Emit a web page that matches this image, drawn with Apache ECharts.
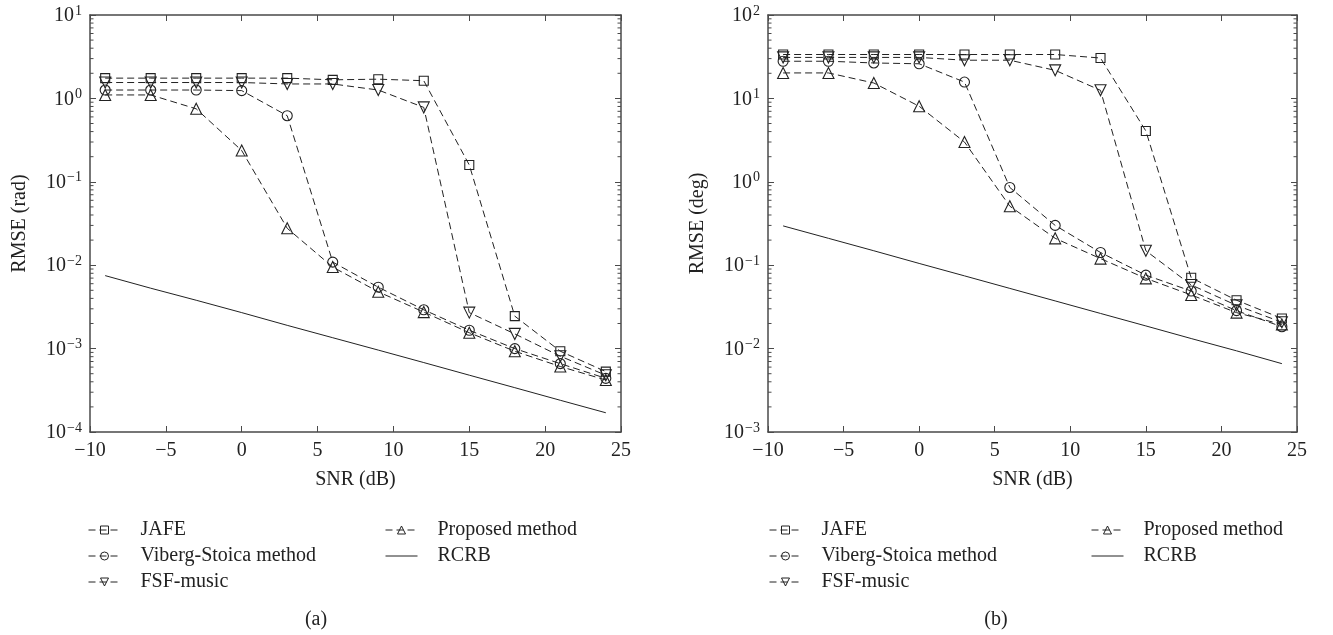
<!DOCTYPE html>
<html>
<head>
<meta charset="utf-8">
<script src="https://cdn.jsdelivr.net/npm/echarts@6/dist/echarts.min.js"></script>
<style>
html,body{margin:0;padding:0;background:#fff;}
#chart{width:1333px;height:635px;}
</style>
</head>
<body>
<div id="chart"></div>
<script>
// ---------- data ----------
var snr = [-9, -6, -3, 0, 3, 6, 9, 12, 15, 18, 21, 24];

// (a) RMSE (rad)
var radJAFE     = [1.75, 1.75, 1.75, 1.75, 1.75, 1.67, 1.70, 1.63, 0.159, 0.00245, 0.00093, 0.00053];
var radViberg   = [1.26, 1.26, 1.26, 1.24, 0.62, 0.0109, 0.00545, 0.00292, 0.00166, 0.00100, 0.00066, 0.00044];
var radFSF      = [1.55, 1.55, 1.55, 1.55, 1.49, 1.49, 1.26, 0.78, 0.0027, 0.0015, 0.00081, 0.00048];
var radProposed = [1.10, 1.10, 0.75, 0.237, 0.0277, 0.0095, 0.0048, 0.00274, 0.00155, 0.00093, 0.00061, 0.00042];
var radRCRB     = [0.0075, 0.0053, 0.0038, 0.0027, 0.0019, 0.00135, 0.00096, 0.00068, 0.00048, 0.00034, 0.00024, 0.00017];

// (b) RMSE (deg)
var degJAFE     = [33.6, 33.6, 33.6, 33.6, 33.6, 33.6, 33.6, 30.5, 4.07, 0.0707, 0.038, 0.023];
var degViberg   = [27.9, 27.9, 26.6, 26.0, 15.7, 0.855, 0.30, 0.142, 0.076, 0.049, 0.0285, 0.0183];
var degFSF      = [31.0, 31.0, 31.0, 31.0, 28.7, 28.7, 21.7, 12.5, 0.149, 0.058, 0.033, 0.0207];
var degProposed = [20.2, 20.2, 15.3, 8.05, 3.0, 0.51, 0.21, 0.12, 0.0695, 0.044, 0.027, 0.0195];
var degRCRB     = [0.296, 0.21, 0.149, 0.105, 0.0745, 0.0527, 0.0373, 0.0264, 0.0187, 0.0132, 0.0094, 0.0066];

var seriesNames = ['JAFE', 'Viberg-Stoica method', 'FSF-music', 'Proposed method', 'RCRB'];
var xTickLabels = [-10, -5, 0, 5, 10, 15, 20, 25];
var panelLabels = ['(a)', '(b)'];
var yNames = ['RMSE (rad)', 'RMSE (deg)'];
var xName = 'SNR (dB)';

// ---------- helpers ----------
var FONT = 'Liberation Serif';
var INK = '#222';
var AXIS = '#4a4a4a';

function pairs(xs, ys) { return xs.map(function (x, i) { return [x, ys[i]]; }); }
function minus(s) { return String(s).replace('-', '\u2212'); }

function minorTicks(lowExp, highExp) {
  var out = [];
  for (var e = lowExp; e < highExp; e++) {
    for (var k = 2; k <= 9; k++) out.push([-10, k * Math.pow(10, e)]);
  }
  return out;
}

function xAxes(gridIndex) {
  var common = {
    type: 'value', gridIndex: gridIndex, min: -10, max: 25, interval: 5,
    splitLine: { show: false },
    axisLine: { show: true, onZero: false, lineStyle: { color: AXIS, width: 1.5 } },
    axisTick: { show: true, inside: true, length: 6, lineStyle: { color: AXIS, width: 1 } }
  };
  var bottom = Object.assign({}, common, {
    position: 'bottom',
    name: xName, nameLocation: 'middle', nameGap: 38,
    nameTextStyle: { fontFamily: FONT, fontSize: 20, color: INK },
    axisLabel: { show: true, margin: 9, fontFamily: FONT, fontSize: 20, color: INK,
      formatter: function (v) { return minus(v); } }
  });
  var top = Object.assign({}, common, { position: 'top', axisLabel: { show: false } });
  return [bottom, top];
}

function yAxes(gridIndex, mn, mx, name) {
  var common = {
    type: 'log', logBase: 10, gridIndex: gridIndex, min: mn, max: mx,
    splitLine: { show: false },
    axisLine: { show: true, onZero: false, lineStyle: { color: AXIS, width: 1.5 } },
    axisTick: { show: true, inside: true, length: 6, lineStyle: { color: AXIS, width: 1 } },
    minorTick: { show: false }
  };
  var left = Object.assign({}, common, {
    position: 'left',
    name: name, nameLocation: 'middle', nameGap: 60,
    nameTextStyle: { fontFamily: FONT, fontSize: 20, color: INK },
    axisLabel: {
      show: true, margin: 8, fontFamily: FONT, color: INK,
      formatter: function (v) {
        var e = Math.round(Math.log(v) / Math.LN10);
        return '{b|10}{s|' + minus(e) + '}';
      },
      rich: {
        b: { fontFamily: FONT, fontSize: 20, lineHeight: 22, color: INK, verticalAlign: 'bottom' },
        s: { fontFamily: FONT, fontSize: 14, lineHeight: 14, color: INK, verticalAlign: 'top', padding: [0, 0, 6, 1] }
      }
    }
  });
  var right = Object.assign({}, common, { position: 'right', axisLabel: { show: false } });
  return [left, right];
}

var styles = {
  'JAFE': { symbol: 'rect', size: 9, rotate: 0 },
  'Viberg-Stoica method': { symbol: 'circle', size: 10, rotate: 0 },
  'FSF-music': { symbol: 'triangle', size: 11, rotate: 180 },
  'Proposed method': { symbol: 'triangle', size: 11, rotate: 0 },
  'RCRB': { symbol: 'none', size: 0, rotate: 0 }
};

function makeSeries(name, values, xi, yi) {
  var st = styles[name];
  var solid = name === 'RCRB';
  return {
    name: name, type: 'line', xAxisIndex: xi, yAxisIndex: yi,
    data: pairs(snr, values),
    symbol: st.symbol, symbolSize: st.size, symbolRotate: st.rotate,
    showSymbol: !solid,
    lineStyle: { color: INK, width: 1, type: solid ? 'solid' : [7, 4] },
    itemStyle: { color: 'rgba(255,255,255,0)', borderColor: INK, borderWidth: 1.1 },
    emphasis: { disabled: true },
    z: 3,
    animation: false
  };
}

function minorSeries(xi, yi, data) {
  return {
    type: 'custom', xAxisIndex: xi, yAxisIndex: yi, silent: true, clip: false,
    data: data, encode: { x: 0, y: 1 },
    renderItem: function (params, api) {
      var p = api.coord([api.value(0), api.value(1)]);
      var cs = params.coordSys;
      var st = { stroke: AXIS, lineWidth: 1 };
      return {
        type: 'group', children: [
          { type: 'line', shape: { x1: cs.x, y1: p[1], x2: cs.x + 3.5, y2: p[1] }, style: st },
          { type: 'line', shape: { x1: cs.x + cs.width, y1: p[1], x2: cs.x + cs.width - 3.5, y2: p[1] }, style: st }
        ]
      };
    }
  };
}

function legendItem(name) {
  if (name === 'RCRB') {
    return { name: name, itemStyle: { color: 'rgba(255,255,255,0)', borderColor: 'rgba(255,255,255,0)', borderWidth: 0, opacity: 0 } };
  }
  return { name: name };
}

function legend(left, names) {
  return {
    left: left, top: 520, orient: 'vertical', padding: 0,
    itemWidth: 32, itemHeight: 10, itemGap: 6,
    selectedMode: false,
    data: names.map(legendItem),
    itemStyle: { color: 'rgba(255,255,255,0)', borderColor: INK, borderWidth: 1 },
    lineStyle: { width: 1, color: INK },
    textStyle: { fontFamily: FONT, fontSize: 20, lineHeight: 20, color: INK, padding: [0, 0, 0, 15] }
  };
}

var xa = xAxes(0).concat(xAxes(1));
var ya = yAxes(0, 1e-4, 10, yNames[0]).concat(yAxes(1, 1e-3, 100, yNames[1]));

var option = {
  animation: false,
  backgroundColor: '#fff',
  grid: [
    { left: 90, top: 15, width: 531, height: 417 },
    { left: 768, top: 15, width: 529, height: 417 }
  ],
  xAxis: xa,
  yAxis: ya,
  legend: [
    legend(88, seriesNames.slice(0, 3)),
    legend(385, seriesNames.slice(3)),
    legend(769, seriesNames.slice(0, 3)),
    legend(1091, seriesNames.slice(3))
  ],
  graphic: [
    { type: 'text', x: 316, y: 620, style: { text: panelLabels[0], textAlign: 'center', textVerticalAlign: 'middle', fontFamily: FONT, fontSize: 20, fill: INK } },
    { type: 'text', x: 996, y: 620, style: { text: panelLabels[1], textAlign: 'center', textVerticalAlign: 'middle', fontFamily: FONT, fontSize: 20, fill: INK } }
  ],
  series: [
    makeSeries('JAFE', radJAFE, 0, 0),
    makeSeries('Viberg-Stoica method', radViberg, 0, 0),
    makeSeries('FSF-music', radFSF, 0, 0),
    makeSeries('Proposed method', radProposed, 0, 0),
    makeSeries('RCRB', radRCRB, 0, 0),
    makeSeries('JAFE', degJAFE, 2, 2),
    makeSeries('Viberg-Stoica method', degViberg, 2, 2),
    makeSeries('FSF-music', degFSF, 2, 2),
    makeSeries('Proposed method', degProposed, 2, 2),
    makeSeries('RCRB', degRCRB, 2, 2),
    minorSeries(0, 0, minorTicks(-4, 1)),
    minorSeries(2, 2, minorTicks(-3, 2))
  ]
};

var chart = echarts.init(document.getElementById('chart'), null, { renderer: 'canvas' });
chart.setOption(option);
</script>
</body>
</html>
